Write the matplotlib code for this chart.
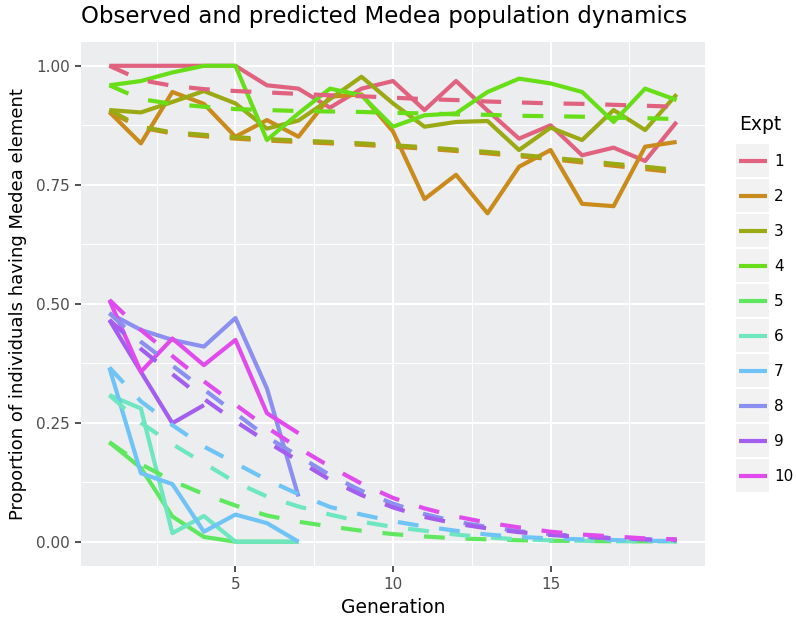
import numpy as np
import matplotlib
matplotlib.use("Agg")
import matplotlib.pyplot as plt
from matplotlib.lines import Line2D
from matplotlib.patches import Rectangle

plt.rcParams['font.family'] = ['DejaVu Sans']

# ---- data ----
generation = list(range(1, 20))
expts = [str(i) for i in range(1, 11)]
colors = ['#E0627F', '#C98B1C', '#9BAA14', '#68DE18', '#5FE85F',
          '#6EE6C0', '#6FC3F5', '#8B8FF0', '#A35EEE', '#DF4CEB']

observed = {
    '1': [1.00, 1.00, 1.00, 1.00, 1.00, 0.959, 0.952, 0.912, 0.952, 0.968,
          0.907, 0.968, 0.906, 0.847, 0.875, 0.812, 0.828, 0.800, 0.882],
    '2': [0.903, 0.837, 0.945, 0.920, 0.851, 0.886, 0.851, 0.935, 0.940, 0.862,
          0.720, 0.771, 0.690, 0.788, 0.823, 0.710, 0.705, 0.830, 0.840],
    '3': [0.907, 0.902, 0.924, 0.947, 0.921, 0.868, 0.885, 0.930, 0.977, 0.921,
          0.872, 0.882, 0.884, 0.823, 0.870, 0.844, 0.907, 0.865, 0.940],
    '4': [0.959, 0.968, 0.986, 1.00, 1.00, 0.844, 0.900, 0.952, 0.938, 0.872,
          0.896, 0.900, 0.945, 0.973, 0.963, 0.945, 0.882, 0.952, 0.928],
    '5': [0.209, 0.155, 0.053, 0.010, 0.0, 0.0, 0.0],
    '6': [0.308, 0.280, 0.018, 0.054, 0.0, 0.0, 0.0],
    '7': [0.366, 0.144, 0.121, 0.021, 0.057, 0.039, 0.0],
    '8': [0.480, 0.445, 0.424, 0.410, 0.470, 0.322, 0.095],
    '9': [0.466, 0.357, 0.249, 0.287],
    '10': [0.508, 0.357, 0.427, 0.371, 0.424, 0.270, 0.228],
}

predicted = {
    '1': [1.00, 0.970, 0.958, 0.951, 0.947, 0.944, 0.941, 0.938, 0.936, 0.933,
          0.930, 0.928, 0.925, 0.923, 0.921, 0.920, 0.918, 0.916, 0.914],
    '2': [0.903, 0.870, 0.858, 0.852, 0.847, 0.843, 0.840, 0.837, 0.834, 0.830,
          0.826, 0.821, 0.816, 0.810, 0.804, 0.797, 0.790, 0.783, 0.776],
    '3': [0.907, 0.872, 0.860, 0.855, 0.850, 0.846, 0.843, 0.840, 0.837, 0.833,
          0.829, 0.824, 0.819, 0.813, 0.807, 0.801, 0.794, 0.788, 0.781],
    '4': [0.959, 0.930, 0.920, 0.914, 0.909, 0.907, 0.905, 0.904, 0.903, 0.901,
          0.900, 0.898, 0.897, 0.895, 0.894, 0.893, 0.891, 0.890, 0.888],
    '5': [0.209, 0.163, 0.128, 0.100, 0.076, 0.055, 0.042, 0.032, 0.023, 0.016,
          0.011, 0.007, 0.005, 0.003, 0.002, 0.0015, 0.001, 0.0007, 0.0005],
    '6': [0.308, 0.250, 0.205, 0.165, 0.125, 0.095, 0.074, 0.057, 0.042, 0.031,
          0.023, 0.015, 0.009, 0.005, 0.003, 0.002, 0.001, 0.0007, 0.0005],
    '7': [0.366, 0.295, 0.245, 0.200, 0.165, 0.130, 0.100, 0.073, 0.057, 0.043,
          0.032, 0.023, 0.015, 0.010, 0.007, 0.005, 0.0035, 0.002, 0.0015],
    '8': [0.480, 0.420, 0.370, 0.320, 0.270, 0.220, 0.180, 0.140, 0.107, 0.080,
          0.058, 0.042, 0.031, 0.022, 0.016, 0.011, 0.008, 0.005, 0.004],
    '9': [0.466, 0.405, 0.352, 0.300, 0.253, 0.210, 0.170, 0.130, 0.098, 0.072,
          0.052, 0.038, 0.028, 0.020, 0.014, 0.010, 0.007, 0.005, 0.003],
    '10': [0.508, 0.445, 0.390, 0.337, 0.288, 0.240, 0.197, 0.158, 0.122, 0.092,
           0.070, 0.053, 0.040, 0.030, 0.021, 0.015, 0.011, 0.007, 0.005],
}

# ---- figure ----
W, H = 796, 621
fig = plt.figure(figsize=(W / 100, H / 100), dpi=100)
ax = fig.add_axes([81 / W, 1 - 565.5 / H, (705 - 81) / W, (565.5 - 42) / H])
ax.set_facecolor('#EBEDEF')

LW = 3.0
for e, c in zip(expts, colors):
    y = observed[e]
    ax.plot(generation[:len(y)], y, color=c, lw=LW, solid_capstyle='butt',
            solid_joinstyle='round', zorder=3)
for e, c in zip(expts, colors):
    ax.plot(generation, predicted[e], color=c, lw=LW, linestyle=(0, (5, 5)),
            dash_capstyle='butt', zorder=4)

ax.set_xlim(0.1, 19.9)
ax.set_ylim(-0.05, 1.05)
ax.set_xticks([5, 10, 15])
ax.set_xticks([2.5, 7.5, 12.5, 17.5], minor=True)
ax.set_yticks([0, 0.25, 0.5, 0.75, 1.0])
ax.set_yticks([0.125, 0.375, 0.625, 0.875], minor=True)
ax.set_yticklabels(['0.00', '0.25', '0.50', '0.75', '1.00'])
ax.grid(which='major', color='white', lw=1.5, zorder=1)
ax.grid(which='minor', color='white', lw=0.75, zorder=1)
ax.set_axisbelow(True)
for s in ax.spines.values():
    s.set_visible(False)
ax.tick_params(which='major', length=4, width=1.2, color='#333333',
               labelcolor='#4D4D4D', labelsize=11, pad=4)
ax.tick_params(which='minor', length=0)

ax.set_xlabel('Generation', fontsize=13.5)
ax.xaxis.set_label_coords(0.5, -0.062)
ax.set_ylabel('Proportion of individuals having Medea element', fontsize=13)
ax.yaxis.set_label_coords(-0.086, 0.5)
fig.text(81 / W, 1 - 17 / H, 'Observed and predicted Medea population dynamics',
         ha='left', va='center', fontsize=16.5)

handles = [Line2D([], [], color=c, lw=LW, solid_capstyle='butt') for c in colors]
leg = ax.legend(handles, expts, title='Expt', loc='upper left',
                bbox_to_anchor=(739 / W, 1 - 115 / H), bbox_transform=fig.transFigure,
                frameon=False, fontsize=11, title_fontsize=13.5,
                handlelength=1.83, handletextpad=0.45, labelspacing=1.31,
                borderaxespad=0, borderpad=0)
leg._legend_box.align = 'left'

# grey key boxes behind the legend lines, like ggplot
fig.canvas.draw()
inv = fig.transFigure.inverted()
for ln in leg.get_lines():
    bb = ln.get_window_extent(fig.canvas.get_renderer())
    cx, cy = (bb.x0 + bb.x1) / 2, (bb.y0 + bb.y1) / 2
    (x0, y0), (x1, y1) = inv.transform([(cx - 16.5, cy - 16.5), (cx + 16.5, cy + 16.5)])
    fig.add_artist(Rectangle((x0, y0), x1 - x0, y1 - y0, transform=fig.transFigure,
                             facecolor='#F2F2F2', edgecolor='none', zorder=-1))

fig.savefig('out.png', dpi=100)
